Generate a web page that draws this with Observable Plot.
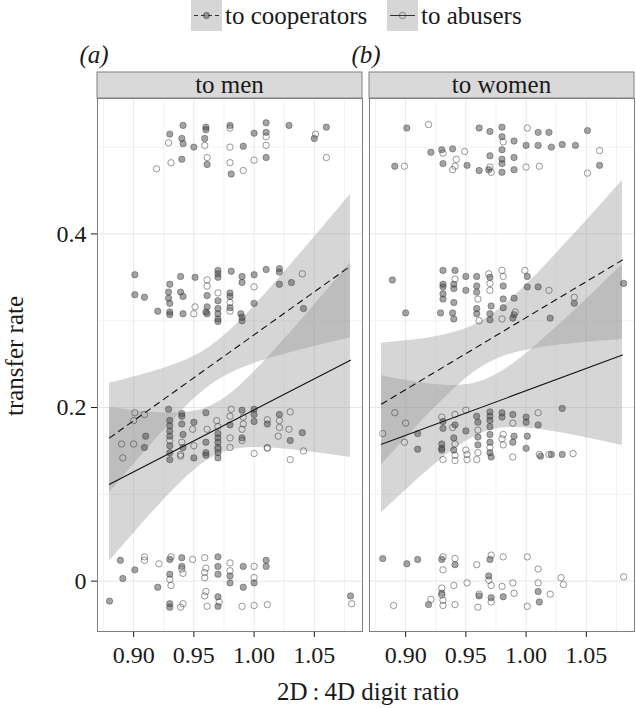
<!DOCTYPE html>
<html>
<head>
<meta charset="utf-8">
<script src="https://cdn.jsdelivr.net/npm/d3@7"></script>
<script src="https://cdn.jsdelivr.net/npm/@observablehq/plot@0.6"></script>
<style>
  html, body { margin: 0; padding: 0; background: #fff; }
  #wrap { position: relative; width: 636px; height: 708px; overflow: hidden; background: #fff; }
  #wrap svg { position: absolute; top: 0; overflow: visible; }
</style>
</head>
<body>
<div id="wrap"></div>
<script>
// ---------- data ----------
const panels = ["to men", "to women"];
const panelTags = ["(a)", "(b)"];
const groups = ["to cooperators", "to abusers"];
const xTicks = [0.90, 0.95, 1.00, 1.05];
const xMinorTicks = [0.875, 0.925, 0.975, 1.025, 1.075];
const yTicks = [0, 0.2, 0.4];
const yMinorTicks = [0.1, 0.3, 0.5];
const xTitle = "2D\u2009:\u20094D digit ratio";
const yTitle = "transfer rate";

// fitted regression lines (value at x = 0.88 and x = 1.08)
const fitX = [0.88, 1.08];
const menCoopFit = [0.165, 0.363];
const menAbuseFit = [0.1115, 0.2546];
const womenCoopFit = [0.204, 0.370];
const womenAbuseFit = [0.1577, 0.2604];

// confidence bands, read at these x positions
const bandX = [0.88, 0.90, 0.92, 0.94, 0.96, 0.98, 1.00, 1.02, 1.04, 1.06, 1.08];
const menCoopLo = [0.102, 0.1345, 0.1662, 0.1961, 0.2216, 0.2393, 0.2508, 0.2594, 0.2668, 0.2737, 0.2802];
const menCoopHi = [0.228, 0.2351, 0.2430, 0.2527, 0.2668, 0.2887, 0.3168, 0.3478, 0.3800, 0.4127, 0.4458];
const menAbuseLo = [0.0230, 0.0550, 0.0861, 0.1148, 0.1380, 0.1505, 0.1539, 0.1528, 0.1500, 0.1464, 0.1424];
const menAbuseHi = [0.2000, 0.1966, 0.1941, 0.1940, 0.1994, 0.2155, 0.2409, 0.2706, 0.3020, 0.3342, 0.3668];
const womenCoopLo = [0.134, 0.1644, 0.1939, 0.2212, 0.2437, 0.2582, 0.2660, 0.2706, 0.2738, 0.2763, 0.2784];
const womenCoopHi = [0.274, 0.2768, 0.2805, 0.2864, 0.2971, 0.3158, 0.3412, 0.3698, 0.3998, 0.4305, 0.4616];
const womenAbuseLo = [0.0787, 0.1047, 0.1294, 0.1517, 0.1685, 0.1763, 0.1765, 0.1731, 0.1682, 0.1624, 0.1563];
const womenAbuseHi = [0.2367, 0.2313, 0.2270, 0.2253, 0.2291, 0.2419, 0.2621, 0.2861, 0.3116, 0.3378, 0.3645];

// jittered observations [digit ratio, transfer rate]
const menCooperators = [
  [0.941,0.525],[0.930,0.515],[0.940,0.510],[0.941,0.504],[0.940,0.486],[0.950,0.500],[0.960,0.523],[0.960,0.520],[0.959,0.510],[0.961,0.480],
  [0.980,0.525],[0.981,0.469],[0.991,0.501],[1.000,0.516],[1.010,0.528],[1.010,0.517],[1.010,0.488],[1.029,0.525],[1.050,0.510],[1.060,0.523],
  [0.901,0.353],[0.901,0.330],[0.909,0.327],[0.920,0.311],[0.930,0.342],[0.929,0.333],[0.929,0.326],[0.930,0.320],[0.930,0.310],[0.930,0.307],
  [0.939,0.351],[0.939,0.333],[0.941,0.328],[0.941,0.308],[0.951,0.350],[0.961,0.329],[0.961,0.316],[0.960,0.310],[0.961,0.308],[0.970,0.358],
  [0.970,0.354],[0.970,0.350],[0.970,0.323],[0.970,0.314],[0.970,0.308],[0.970,0.302],[0.970,0.299],[0.981,0.357],[0.980,0.332],[0.980,0.328],
  [0.980,0.315],[0.990,0.351],[0.990,0.344],[0.989,0.308],[0.990,0.300],[0.990,0.304],[1.000,0.353],[1.000,0.320],[1.010,0.359],[1.021,0.360],
  [1.021,0.356],[1.021,0.342],[1.031,0.344],[1.041,0.314],
  [0.910,0.167],[0.909,0.154],[0.929,0.198],[0.930,0.185],[0.930,0.179],[0.930,0.173],[0.930,0.167],[0.930,0.156],[0.930,0.148],[0.930,0.140],
  [0.940,0.193],[0.940,0.190],[0.940,0.181],[0.941,0.169],[0.941,0.154],[0.950,0.183],[0.950,0.142],[0.960,0.194],[0.960,0.160],[0.960,0.148],
  [0.960,0.145],[0.970,0.170],[0.970,0.165],[0.970,0.160],[0.970,0.154],[0.970,0.148],[0.970,0.142],[0.980,0.180],[0.990,0.197],[0.990,0.165],
  [1.000,0.198],[1.000,0.192],[1.000,0.184],[1.011,0.181],[1.021,0.192],[1.030,0.162],[1.040,0.171],
  [0.889,0.024],[0.891,0.003],[0.901,0.013],[0.880,-0.023],[0.920,-0.007],[0.930,0.025],[0.930,0.008],[0.930,-0.026],[0.930,-0.030],[0.940,0.027],
  [0.940,0.017],[0.970,0.028],[0.970,0.017],[0.970,0.008],[0.970,-0.018],[0.970,-0.029],[0.980,0.006],[0.980,-0.002],[0.991,0.017],[0.991,-0.007],
  [1.000,-0.002],[1.010,0.024],[1.010,0.017],[1.080,-0.017]
];
const menAbusers = [
  [0.929,0.505],[0.931,0.482],[0.919,0.475],[0.959,0.502],[0.961,0.488],[0.980,0.522],[0.980,0.500],[0.980,0.482],[0.991,0.473],[1.000,0.485],
  [1.010,0.512],[1.010,0.502],[1.051,0.515],[1.060,0.488],
  [0.951,0.316],[0.950,0.308],[0.961,0.347],[0.961,0.340],[0.970,0.332],[0.980,0.321],[0.980,0.311],[1.000,0.339],[1.040,0.354],
  [0.901,0.194],[0.909,0.192],[0.900,0.185],[0.890,0.158],[0.900,0.158],[0.891,0.142],[0.930,0.162],[0.940,0.160],[0.939,0.146],[0.949,0.175],
  [0.950,0.156],[0.961,0.175],[0.969,0.185],[0.970,0.178],[0.981,0.198],[0.980,0.190],[0.980,0.165],[0.991,0.189],[0.991,0.181],[0.990,0.175],
  [0.990,0.162],[1.000,0.147],[1.011,0.186],[1.011,0.154],[1.021,0.185],[1.021,0.177],[1.020,0.167],[1.030,0.195],[1.029,0.175],[1.041,0.150],
  [0.939,0.144],[0.970,0.152],[0.980,0.154],[1.011,0.153],[1.030,0.140],
  [0.909,0.028],[0.909,0.024],[0.921,0.020],[0.931,0.028],[0.930,0.002],[0.931,-0.005],[0.940,0.014],[0.941,0.009],[0.941,-0.026],[0.939,-0.030],
  [0.949,0.025],[0.959,0.027],[0.960,0.015],[0.959,0.010],[0.959,0.004],[0.960,-0.012],[0.959,-0.017],[0.961,-0.029],[0.971,-0.024],[0.980,0.021],
  [0.980,0.012],[0.990,-0.029],[1.000,0.017],[1.000,0.004],[1.000,-0.028],[1.011,-0.027],[1.081,-0.026]
];
const womenCooperators = [
  [0.901,0.522],[0.891,0.478],[0.921,0.494],[0.930,0.497],[0.939,0.498],[0.931,0.481],[0.951,0.479],[0.961,0.522],[0.961,0.473],[0.970,0.518],
  [0.970,0.490],[0.969,0.474],[0.980,0.523],[0.980,0.512],[0.980,0.497],[0.980,0.486],[0.980,0.481],[0.980,0.471],[0.990,0.507],[0.990,0.488],
  [0.990,0.474],[1.000,0.502],[1.010,0.517],[1.010,0.502],[1.019,0.517],[1.021,0.500],[1.030,0.503],[1.041,0.502],[1.051,0.519],[1.061,0.479],
  [0.889,0.347],[0.900,0.309],[0.931,0.358],[0.941,0.358],[0.931,0.342],[0.940,0.342],[0.931,0.339],[0.931,0.331],[0.931,0.325],[0.940,0.337],
  [0.940,0.321],[0.929,0.309],[0.939,0.309],[0.940,0.302],[0.950,0.351],[0.950,0.335],[0.959,0.351],[0.959,0.340],[0.959,0.333],[0.959,0.314],
  [0.959,0.308],[0.970,0.350],[0.971,0.317],[0.970,0.308],[0.970,0.301],[0.981,0.340],[0.981,0.325],[0.981,0.315],[0.990,0.326],[0.990,0.307],
  [0.989,0.303],[1.001,0.351],[1.001,0.339],[1.010,0.339],[1.020,0.303],[1.040,0.320],[1.081,0.343],
  [0.910,0.170],[0.910,0.152],[0.931,0.184],[0.931,0.176],[0.930,0.158],[0.930,0.153],[0.930,0.151],[0.941,0.180],[0.940,0.165],[0.940,0.151],
  [0.950,0.173],[0.959,0.190],[0.960,0.183],[0.960,0.166],[0.960,0.157],[0.970,0.195],[0.970,0.190],[0.970,0.185],[0.970,0.178],[0.970,0.169],
  [0.970,0.160],[0.970,0.148],[0.971,0.143],[0.980,0.194],[0.980,0.189],[0.989,0.192],[0.989,0.160],[0.990,0.167],[1.000,0.189],[1.000,0.183],
  [1.001,0.167],[1.000,0.153],[1.010,0.180],[1.030,0.199],[1.012,0.144],[1.021,0.146],[1.030,0.146],
  [0.881,0.026],[0.901,0.020],[0.910,0.025],[0.919,-0.027],[0.930,0.025],[0.930,-0.014],[0.941,0.019],[0.961,-0.017],[0.970,0.025],[0.969,0.006],
  [0.971,-0.019],[0.981,-0.018],[1.010,-0.012],[1.011,-0.024]
];
const womenAbusers = [
  [0.919,0.526],[0.899,0.478],[0.931,0.493],[0.942,0.486],[0.941,0.478],[0.939,0.474],[0.949,0.495],[0.970,0.477],[0.971,0.471],[0.981,0.506],
  [1.001,0.522],[1.000,0.477],[1.011,0.478],[1.061,0.496],[1.051,0.470],
  [0.941,0.348],[0.960,0.325],[0.961,0.300],[0.969,0.354],[0.970,0.343],[0.970,0.335],[0.980,0.358],[0.981,0.351],[0.980,0.302],[0.991,0.310],
  [0.999,0.358],[1.019,0.335],[1.040,0.327],
  [0.891,0.194],[0.900,0.182],[0.881,0.170],[0.899,0.160],[0.930,0.189],[0.939,0.177],[0.941,0.192],[0.941,0.158],[0.950,0.197],[0.950,0.151],
  [0.960,0.174],[0.960,0.148],[0.970,0.154],[0.981,0.169],[0.980,0.164],[0.989,0.182],[1.010,0.194],[1.019,0.146],[0.931,0.140],[0.941,0.139],
  [0.941,0.145],[0.951,0.140],[0.951,0.146],[0.959,0.140],[0.981,0.157],[0.989,0.143],[1.011,0.146],[1.039,0.147],
  [0.890,-0.028],[0.921,-0.021],[0.931,0.028],[0.931,0.013],[0.930,-0.008],[0.930,-0.016],[0.931,-0.022],[0.931,-0.028],[0.941,0.026],[0.940,-0.005],
  [0.941,-0.027],[0.951,-0.002],[0.959,0.019],[0.961,-0.015],[0.960,-0.030],[0.971,0.030],[0.969,0.001],[0.971,-0.005],[0.971,-0.024],[0.981,0.028],
  [0.980,-0.006],[0.989,-0.002],[0.990,-0.014],[1.001,0.028],[1.001,-0.029],[1.010,0.014],[1.010,-0.002],[1.020,-0.015],[1.029,0.004],[1.031,-0.004],
  [1.081,0.005]
];

// ---------- build tables ----------
const FONT = "'Liberation Serif', 'Times New Roman', serif";
const ptsRows = arr => arr.map(([x, y]) => ({x, y}));
const bandRows = (lo, hi) => bandX.map((x, i) => ({x, lo: lo[i], hi: hi[i]}));
const fitRows = v => fitX.map((x, i) => ({x, y: v[i]}));

const panelData = [
  {coop: menCooperators, abuse: menAbusers, coopBand: bandRows(menCoopLo, menCoopHi), abuseBand: bandRows(menAbuseLo, menAbuseHi), coopFit: fitRows(menCoopFit), abuseFit: fitRows(menAbuseFit)},
  {coop: womenCooperators, abuse: womenAbusers, coopBand: bandRows(womenCoopLo, womenCoopHi), abuseBand: bandRows(womenAbuseLo, womenAbuseHi), coopFit: fitRows(womenCoopFit), abuseFit: fitRows(womenAbuseFit)}
];

const wrap = document.getElementById("wrap");
const coopDot = {r: 3.2, fill: "#4a4a4a", fillOpacity: 0.5, stroke: "#333", strokeOpacity: 0.5, strokeWidth: 0.8};
const abuseDot = {r: 3.2, fill: "none", stroke: "#333", strokeOpacity: 0.5, strokeWidth: 1};

function makePanel(i) {
  const d = panelData[i];
  const first = i === 0;
  const chart = Plot.plot({
    width: first ? 363 : 268,
    height: 708,
    marginTop: 98,
    marginBottom: 77,
    marginLeft: first ? 97 : 1,
    marginRight: first ? 1 : 2,
    style: {fontFamily: FONT, fontSize: "24px", color: "#1a1a1a", background: "transparent", overflow: "visible"},
    x: {domain: [0.87, 1.09], ticks: xTicks, tickFormat: d3.format(".2f"), tickSize: 6, tickPadding: 8, label: null},
    y: {domain: [-0.058, 0.556], ticks: yTicks, tickFormat: v => v === 0 ? "0" : d3.format(".1f")(v), tickSize: 6, tickPadding: 5, label: null, axis: first ? "left" : null},
    marks: [
      Plot.ruleX(xMinorTicks, {stroke: "#f2f2f2", strokeWidth: 1}),
      Plot.ruleY(yMinorTicks, {stroke: "#f2f2f2", strokeWidth: 1}),
      Plot.ruleX(xTicks, {stroke: "#e6e6e6", strokeWidth: 1}),
      Plot.ruleY(yTicks, {stroke: "#e6e6e6", strokeWidth: 1}),
      Plot.areaY(d.coopBand, {x: "x", y1: "lo", y2: "hi", fill: "#999", fillOpacity: 0.4, curve: "natural"}),
      Plot.areaY(d.abuseBand, {x: "x", y1: "lo", y2: "hi", fill: "#999", fillOpacity: 0.4, curve: "natural"}),
      Plot.dot(ptsRows(d.abuse), {x: "x", y: "y", ...abuseDot}),
      Plot.dot(ptsRows(d.coop), {x: "x", y: "y", ...coopDot}),
      Plot.line(d.coopFit, {x: "x", y: "y", stroke: "#111", strokeWidth: 1.1, strokeDasharray: "6,5"}),
      Plot.line(d.abuseFit, {x: "x", y: "y", stroke: "#111", strokeWidth: 1.1}),
      Plot.frame({stroke: "#808080", strokeWidth: 1})
    ]
  });
  chart.style.left = (first ? 0 : 368) + "px";
  // facet strip and panel tag
  const xr = chart.scale("x").range;
  const svg = d3.select(chart);
  svg.append("rect").attr("x", xr[0]).attr("y", 72).attr("width", xr[1] - xr[0]).attr("height", 26)
    .attr("fill", "#d9d9d9").attr("stroke", "#808080").attr("stroke-width", 1);
  svg.append("text").attr("x", (xr[0] + xr[1]) / 2).attr("y", 93).attr("text-anchor", "middle")
    .attr("font-family", FONT).attr("font-size", 25).attr("fill", "#1a1a1a").text(panels[i]);
  svg.append("text").attr("x", xr[0] - 3).attr("y", 63)
    .attr("font-family", FONT).attr("font-size", 25).attr("font-style", "italic").attr("fill", "#1a1a1a").text(panelTags[i]);
  wrap.appendChild(chart);
}
makePanel(0);
makePanel(1);

// ---------- overlay: legend and axis titles ----------
const ov = d3.create("svg").attr("width", 636).attr("height", 708).style("left", "0px").style("pointer-events", "none");
const legendSpec = [
  {label: groups[0], x: 191, dash: "4,3", dot: coopDot},
  {label: groups[1], x: 387, dash: null, dot: abuseDot}
];
legendSpec.forEach(s => {
  ov.append("rect").attr("x", s.x).attr("y", 0).attr("width", 31).attr("height", 31).attr("fill", "#d6d6d6");
  const ln = ov.append("line").attr("x1", s.x + 3).attr("x2", s.x + 28).attr("y1", 15.5).attr("y2", 15.5)
    .attr("stroke", "#333").attr("stroke-width", 1);
  if (s.dash) ln.attr("stroke-dasharray", s.dash);
  ov.append("circle").attr("cx", s.x + 15.5).attr("cy", 15.5).attr("r", s.dot.r)
    .attr("fill", s.dot.fill).attr("fill-opacity", s.dot.fillOpacity || 0)
    .attr("stroke", s.dot.stroke).attr("stroke-opacity", s.dot.strokeOpacity).attr("stroke-width", s.dot.strokeWidth);
  ov.append("text").attr("x", s.x + 34).attr("y", 24).attr("font-family", FONT).attr("font-size", 25)
    .attr("fill", "#1a1a1a").text(s.label);
});
ov.append("text").attr("transform", "translate(23,356) rotate(-90)").attr("text-anchor", "middle")
  .attr("font-family", FONT).attr("font-size", 25).attr("fill", "#1a1a1a").text(yTitle);
ov.append("text").attr("x", 368).attr("y", 700).attr("text-anchor", "middle")
  .attr("font-family", FONT).attr("font-size", 25).attr("fill", "#1a1a1a").text(xTitle);
wrap.appendChild(ov.node());
</script>
</body>
</html>
